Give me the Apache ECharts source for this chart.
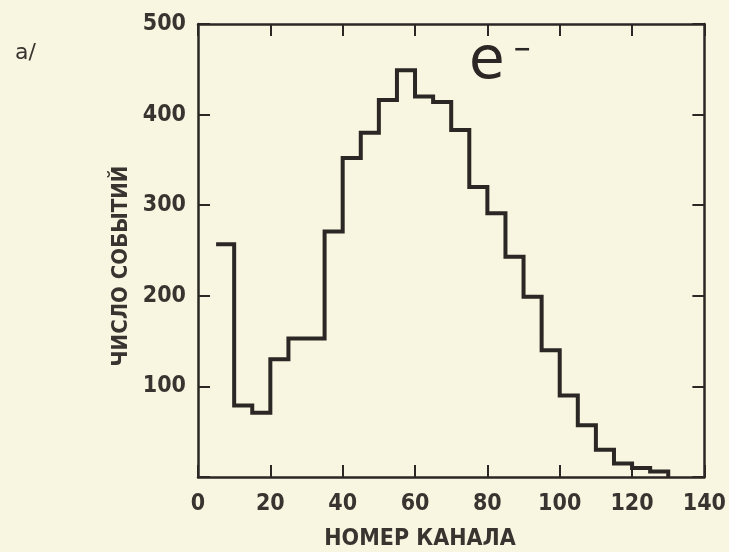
<!DOCTYPE html>
<html>
<head>
<meta charset="utf-8">
<script src="https://cdn.jsdelivr.net/npm/echarts@6/dist/echarts.min.js"></script>
<style>
  html, body { margin: 0; padding: 0; background: #f8f6e1; }
  #chart { width: 729px; height: 552px; }
</style>
</head>
<body>
<div id="chart"></div>
<script>
// left edges of 5-channel bins and counts
var binStarts = [5, 10, 15, 20, 25, 30, 35, 40, 45, 50, 55, 60, 65, 70, 75, 80, 85, 90, 95, 100, 105, 110, 115, 120, 125];
var counts = [257, 79, 71, 130, 153, 153, 271, 352, 380, 416, 449, 420, 414, 383, 320, 291, 243, 199, 140, 90, 57, 30, 15, 10, 6];
var binWidth = 5;
var xTicks = [0, 20, 40, 60, 80, 100, 120, 140];
var yTicks = [100, 200, 300, 400, 500];

var ink = '#2b2724';
var textCol = '#3a3430';
var font = '"DejaVu Sans Condensed", "DejaVu Sans"';

var chart = echarts.init(document.getElementById('chart'), null, { renderer: 'canvas' });

// step line: horizontal over each bin, last one drops to the baseline
var steps = binStarts.map(function (x, i) { return [x, counts[i]]; });
steps.push([binStarts[binStarts.length - 1] + binWidth, 0]);

var tick = { show: true, inside: true, length: 12, lineStyle: { color: ink, width: 2 } };
var line = { show: true, onZero: false, lineStyle: { color: ink, width: 2.5 } };

var option = {
  backgroundColor: '#f8f6e1',
  animation: false,
  grid: { left: 198, right: 22, top: 24, bottom: 75 },
  xAxis: [{
    type: 'value', min: 0, max: 140, interval: 20, position: 'bottom',
    axisLine: line, axisTick: tick, splitLine: { show: false },
    axisLabel: {
      margin: 16, color: textCol, fontFamily: font, fontSize: 23, fontWeight: 'bold',
      formatter: function (v) { return xTicks.indexOf(v) >= 0 ? String(v) : ''; }
    }
  }, {
    type: 'value', min: 0, max: 140, interval: 20, position: 'top',
    axisLine: line, axisTick: tick, axisLabel: { show: false }, splitLine: { show: false }
  }],
  yAxis: [{
    type: 'value', min: 0, max: 500, interval: 100, position: 'left',
    axisLine: line, axisTick: tick, splitLine: { show: false },
    axisLabel: {
      margin: 12, color: textCol, fontFamily: font, fontSize: 23, fontWeight: 'bold',
      formatter: function (v) { return yTicks.indexOf(v) >= 0 ? String(v) : ''; }
    }
  }, {
    type: 'value', min: 0, max: 500, interval: 100, position: 'right',
    axisLine: line, axisTick: tick, axisLabel: { show: false }, splitLine: { show: false }
  }],
  series: [{
    type: 'line',
    step: 'end',
    data: steps,
    showSymbol: false,
    lineStyle: { color: ink, width: 4, join: 'miter' }
  }],
  graphic: [
    { type: 'text', left: 15, top: 42, style: { text: 'a/', font: '22px "DejaVu Sans"', fill: textCol } },
    { type: 'text', x: 469, y: 63, style: { text: 'e', font: '58px "DejaVu Sans"', fill: ink, verticalAlign: 'middle' } },
    { type: 'text', x: 513, y: 50, style: { text: '−', font: 'bold 22px "DejaVu Sans"', fill: ink, verticalAlign: 'middle' } },
    { type: 'text', x: 420, y: 539, style: { text: 'НОМЕР КАНАЛА', font: 'bold 23px ' + font, fill: textCol, align: 'center', verticalAlign: 'middle' } },
    { type: 'text', x: 121, y: 266, rotation: Math.PI / 2, style: { text: 'ЧИСЛО СОБЫТИЙ', font: 'bold 22px ' + font, fill: textCol, align: 'center', verticalAlign: 'middle' } }
  ]
};

chart.setOption(option);
</script>
</body>
</html>
